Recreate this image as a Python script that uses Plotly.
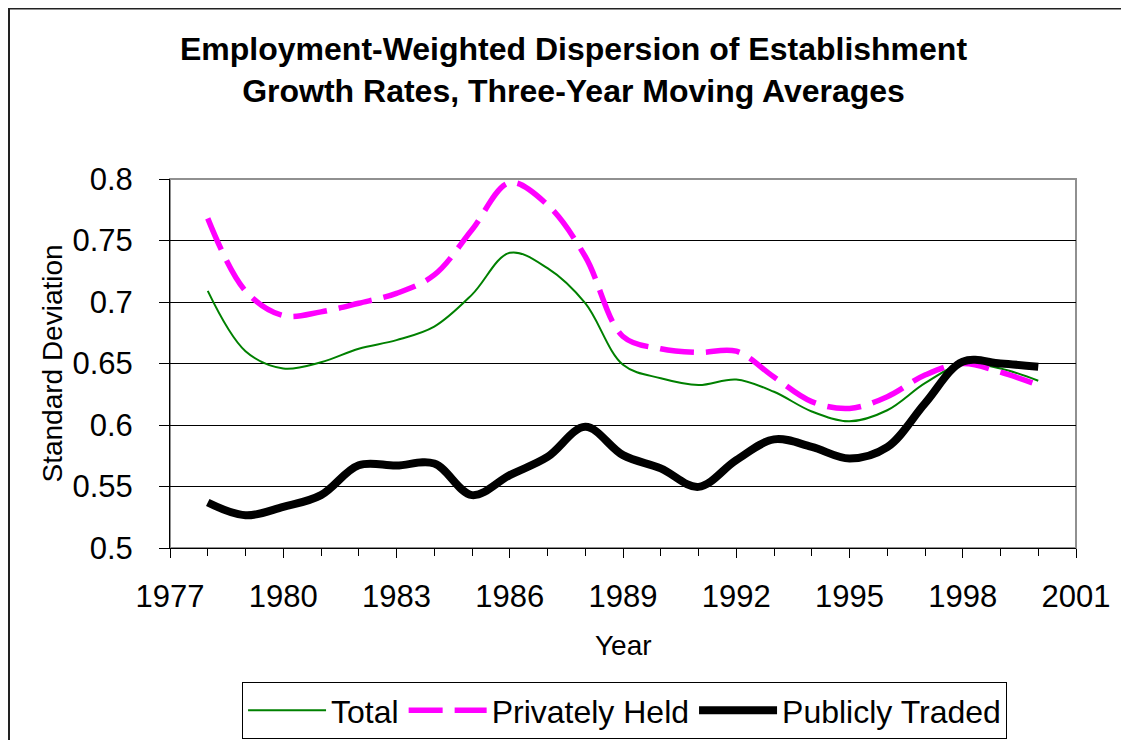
import plotly.graph_objects as go

years = list(range(1978, 2001))
total = [0.709, 0.660, 0.646, 0.651, 0.662, 0.669, 0.680, 0.706, 0.740, 0.7275, 0.699,
         0.649, 0.638, 0.6325, 0.637, 0.627, 0.611, 0.603, 0.612, 0.634, 0.6496, 0.646, 0.636]
private = [0.768, 0.709, 0.689, 0.692, 0.699, 0.707, 0.722, 0.7587, 0.797, 0.779, 0.737,
           0.672, 0.662, 0.659, 0.660, 0.639, 0.619, 0.6135, 0.623, 0.6406, 0.650, 0.643, 0.6325]
public = [0.537, 0.5266, 0.5334, 0.543, 0.5673, 0.567, 0.5687, 0.543, 0.5592, 0.574, 0.5985,
          0.5755, 0.5647, 0.5497, 0.5714, 0.5883, 0.5822, 0.5728, 0.582, 0.6176, 0.6515, 0.650, 0.6474]

x_ticks = [1977, 1980, 1983, 1986, 1989, 1992, 1995, 1998, 2001]
y_ticks = [0.5, 0.55, 0.6, 0.65, 0.7, 0.75, 0.8]
y_ticktext = ["0.5", "0.55", "0.6", "0.65", "0.7", "0.75", "0.8"]

FONT = "Liberation Sans, Arial, sans-serif"

fig = go.Figure()
fig.add_trace(go.Scatter(x=years, y=total, name="Total", mode="lines",
                         line=dict(color="#008000", width=2, shape="spline")))
fig.add_trace(go.Scatter(x=years, y=private, name="Privately Held", mode="lines",
                         line=dict(color="#FF00FF", width=5.5, shape="spline", dash="34px,12px")))
fig.add_trace(go.Scatter(x=years, y=public, name="Publicly Traded", mode="lines",
                         line=dict(color="#000000", width=8, shape="spline")))

fig.update_layout(
    width=1129, height=740,
    margin=dict(l=162, r=61, t=171, b=200),
    paper_bgcolor="white", plot_bgcolor="white",
    font=dict(family=FONT, color="black"),
    showlegend=True,
    legend=dict(orientation="h", xref="container", yref="container",
                x=0.5461, xanchor="center", y=0.0892, yanchor="top",
                bordercolor="black", borderwidth=1, font=dict(size=32, family=FONT),
                itemwidth=78, tracegroupgap=0),
    annotations=[
        dict(text="<b>Employment-Weighted Dispersion of Establishment<br>Growth Rates, Three-Year Moving Averages</b>",
             xref="paper", yref="paper", x=0.4454, y=1.2954, xanchor="center", yanchor="middle",
             showarrow=False, font=dict(size=32, family=FONT)),
        dict(text="Standard Deviation", xref="paper", yref="paper", x=-0.1302, y=0.5,
             xanchor="center", yanchor="middle", textangle=-90, showarrow=False,
             font=dict(size=28, family=FONT)),
        dict(text="Year", xref="paper", yref="paper", x=0.5, y=-0.2629,
             xanchor="center", yanchor="middle", showarrow=False,
             font=dict(size=28, family=FONT)),
    ],
    shapes=[
        dict(type="rect", xref="paper", yref="paper", x0=0, x1=1, y0=0, y1=1,
             line=dict(color="#909090", width=2), layer="below"),
        dict(type="rect", xref="paper", yref="paper", x0=-0.1777, x1=1.1, y0=-0.6, y1=1.462,
             line=dict(color="#222222", width=2), layer="below"),
    ],
)

fig.update_xaxes(range=[1977, 2001], tickvals=x_ticks, ticks="outside", ticklen=9,
                 tickcolor="black", tickwidth=1, showline=True, linecolor="black", linewidth=1,
                 showgrid=False, zeroline=False, tickfont=dict(size=31, family=FONT),
                 ticklabelstandoff=12, automargin=False,
                 minor=dict(dtick=1, tick0=1977, ticks="outside", ticklen=7, tickcolor="black",
                            showgrid=False))
fig.update_yaxes(range=[0.5, 0.8], tickvals=y_ticks, ticktext=y_ticktext, ticks="outside",
                 ticklen=10, tickcolor="black", tickwidth=1, showline=True, linecolor="black",
                 linewidth=1, showgrid=True, gridcolor="black", gridwidth=1, zeroline=False,
                 tickfont=dict(size=31, family=FONT), ticklabelstandoff=20, automargin=False)

fig.write_html("out.html")
